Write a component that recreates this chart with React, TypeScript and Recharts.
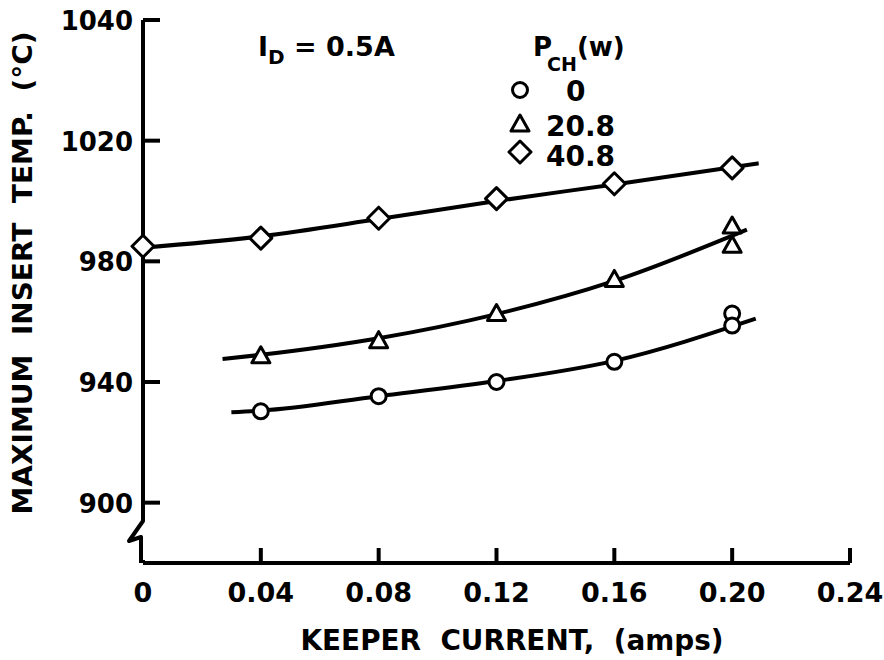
import React from 'react';
import { ComposedChart, Line, Scatter, XAxis, YAxis } from 'recharts';

// keeper current (amps) and max insert temp (°C)
const diamondX = [0, 0.04, 0.08, 0.12, 0.16, 0.2];
const diamondT = [985, 987.7, 994.3, 1000.8, 1005.7, 1011];
const triangleX = [0.04, 0.08, 0.12, 0.16, 0.2, 0.2];
const triangleT = [948.7, 953.7, 962.7, 974, 991.7, 985.3];
const circleX = [0.04, 0.08, 0.12, 0.16, 0.2, 0.2];
const circleT = [930.3, 935.3, 940, 946.7, 962.7, 958.7];

// hand-drawn fit curves
const diamondFitX = [0, 0.04, 0.08, 0.12, 0.16, 0.209];
const diamondFitT = [984.5, 988.3, 994, 1000, 1005.5, 1012.5];
const triangleFitX = [0.027, 0.04, 0.08, 0.12, 0.16, 0.205];
const triangleFitT = [947.6, 949, 954.5, 962.5, 973.5, 990.5];
const circleFitX = [0.03, 0.04, 0.08, 0.12, 0.16, 0.208];
const circleFitT = [930, 930.5, 935.3, 940.3, 947, 961];

const xTicks = [0, 0.04, 0.08, 0.12, 0.16, 0.2, 0.24];
const xTickLabels = ['0', '0.04', '0.08', '0.12', '0.16', '0.20', '0.24'];
const yTicks = [900, 940, 980, 1020, 1060];
const yTickLabels = ['900', '940', '980', '1020', '1040'];

const legendLabels = ['0', '20.8', '40.8'];

const zip = (xs: number[], ys: number[]) => xs.map((x, i) => ({ x, y: ys[i] }));

const FONT = '"DejaVu Sans", sans-serif';

const CircleMark = ({ cx, cy }: any) => (
  <circle cx={cx} cy={cy} r={7.5} fill="#fff" stroke="#000" strokeWidth={3} />
);
const TriangleMark = ({ cx, cy }: any) => (
  <path
    d={`M${cx},${cy - 9} L${cx + 9},${cy + 7} L${cx - 9},${cy + 7} Z`}
    fill="#fff"
    stroke="#000"
    strokeWidth={3}
    strokeLinejoin="round"
  />
);
const DiamondMark = ({ cx, cy }: any) => (
  <path
    d={`M${cx},${cy - 11} L${cx + 11},${cy} L${cx},${cy + 11} L${cx - 11},${cy} Z`}
    fill="#fff"
    stroke="#000"
    strokeWidth={3}
    strokeLinejoin="round"
  />
);

const YTick = ({ x, y, payload }: any) => {
  const i = yTicks.indexOf(payload.value);
  return (
    <g>
      <line x1={x} y1={y} x2={x + 17} y2={y} stroke="#000" strokeWidth={4} />
      <text x={x - 10} y={y + 10} textAnchor="end" fontFamily={FONT} fontWeight="bold" fontSize={26} fill="#000">
        {yTickLabels[i]}
      </text>
    </g>
  );
};

const XTick = ({ x, y, payload }: any) => {
  const i = xTicks.indexOf(payload.value);
  return (
    <g>
      {i > 0 && <line x1={x} y1={y} x2={x} y2={y - 15} stroke="#000" strokeWidth={4} />}
      <text x={x} y={y + 39} textAnchor="middle" fontFamily={FONT} fontWeight="bold" fontSize={27} fill="#000">
        {xTickLabels[i]}
      </text>
    </g>
  );
};

const lineProps = {
  type: 'monotone' as const,
  dataKey: 'y',
  stroke: '#000',
  strokeWidth: 4,
  dot: false,
  activeDot: false,
  isAnimationActive: false,
  legendType: 'none' as const,
};

export default function App() {
  return (
    <div style={{ position: 'absolute', left: 0, top: 0, width: 884, height: 660, background: '#fff' }}>
      <ComposedChart width={884} height={660} margin={{ top: 20, right: 34, bottom: 0, left: 0 }}>
        <XAxis
          type="number"
          dataKey="x"
          domain={[0, 0.24]}
          ticks={xTicks}
          tick={<XTick />}
          tickSize={0}
          tickMargin={0}
          height={97}
          axisLine={{ stroke: '#000', strokeWidth: 4 }}
          allowDuplicatedCategory={false}
        />
        <YAxis
          type="number"
          dataKey="y"
          domain={[880, 1060]}
          ticks={yTicks}
          tick={<YTick />}
          tickSize={0}
          tickMargin={0}
          width={143}
          axisLine={{ stroke: '#000', strokeWidth: 4 }}
          interval={0}
        />
        <Line {...lineProps} data={zip(diamondFitX, diamondFitT)} />
        <Line {...lineProps} data={zip(triangleFitX, triangleFitT)} />
        <Line {...lineProps} data={zip(circleFitX, circleFitT)} />
        <Scatter data={zip(diamondX, diamondT)} dataKey="y" shape={<DiamondMark />} isAnimationActive={false} />
        <Scatter data={zip(triangleX, triangleT)} dataKey="y" shape={<TriangleMark />} isAnimationActive={false} />
        <Scatter data={zip(circleX, circleT)} dataKey="y" shape={<CircleMark />} isAnimationActive={false} />
      </ComposedChart>
      <svg width={884} height={660} style={{ position: 'absolute', left: 0, top: 0, pointerEvents: 'none' }}>
        {/* axis break */}
        <line x1={143} y1={517} x2={143} y2={560} stroke="#fff" strokeWidth={6} />
        <path
          d="M143,514 L143,521 L129,541 L141,537 L141,563"
          fill="none"
          stroke="#000"
          strokeWidth={4}
          strokeLinejoin="round"
        />
        <text
          transform="translate(32,273) rotate(-90)"
          textAnchor="middle"
          fontFamily={FONT}
          fontWeight="bold"
          fontSize={27}
          textLength={483}
          lengthAdjust="spacingAndGlyphs"
          style={{ whiteSpace: 'pre' }}
          fill="#000"
        >
          {'MAXIMUM  INSERT  TEMP.  (°C)'}
        </text>
        <text
          x={512}
          y={650}
          textAnchor="middle"
          fontFamily={FONT}
          fontWeight="bold"
          fontSize={29}
          textLength={423}
          lengthAdjust="spacingAndGlyphs"
          style={{ whiteSpace: 'pre' }}
          fill="#000"
        >
          {'KEEPER  CURRENT,  (amps)'}
        </text>
        <text x={258} y={56} fontFamily={FONT} fontWeight="bold" fontSize={27} fill="#000">
          I<tspan fontSize={20} dy={8}>D</tspan>
          <tspan dy={-8}> = 0.5A</tspan>
        </text>
        <text x={533} y={56} fontFamily={FONT} fontWeight="bold" fontSize={26} fill="#000">
          P<tspan fontSize={19} dx={-5} dy={15}>CH</tspan>
          <tspan dy={-15}>(w)</tspan>
        </text>
        <CircleMark cx={520} cy={90} />
        <TriangleMark cx={520} cy={124} />
        <DiamondMark cx={520} cy={152} />
        <text x={566} y={101} fontFamily={FONT} fontWeight="bold" fontSize={28} fill="#000">{legendLabels[0]}</text>
        <text x={546} y={136} fontFamily={FONT} fontWeight="bold" fontSize={28} fill="#000">{legendLabels[1]}</text>
        <text x={546} y={166} fontFamily={FONT} fontWeight="bold" fontSize={28} fill="#000">{legendLabels[2]}</text>
      </svg>
    </div>
  );
}
